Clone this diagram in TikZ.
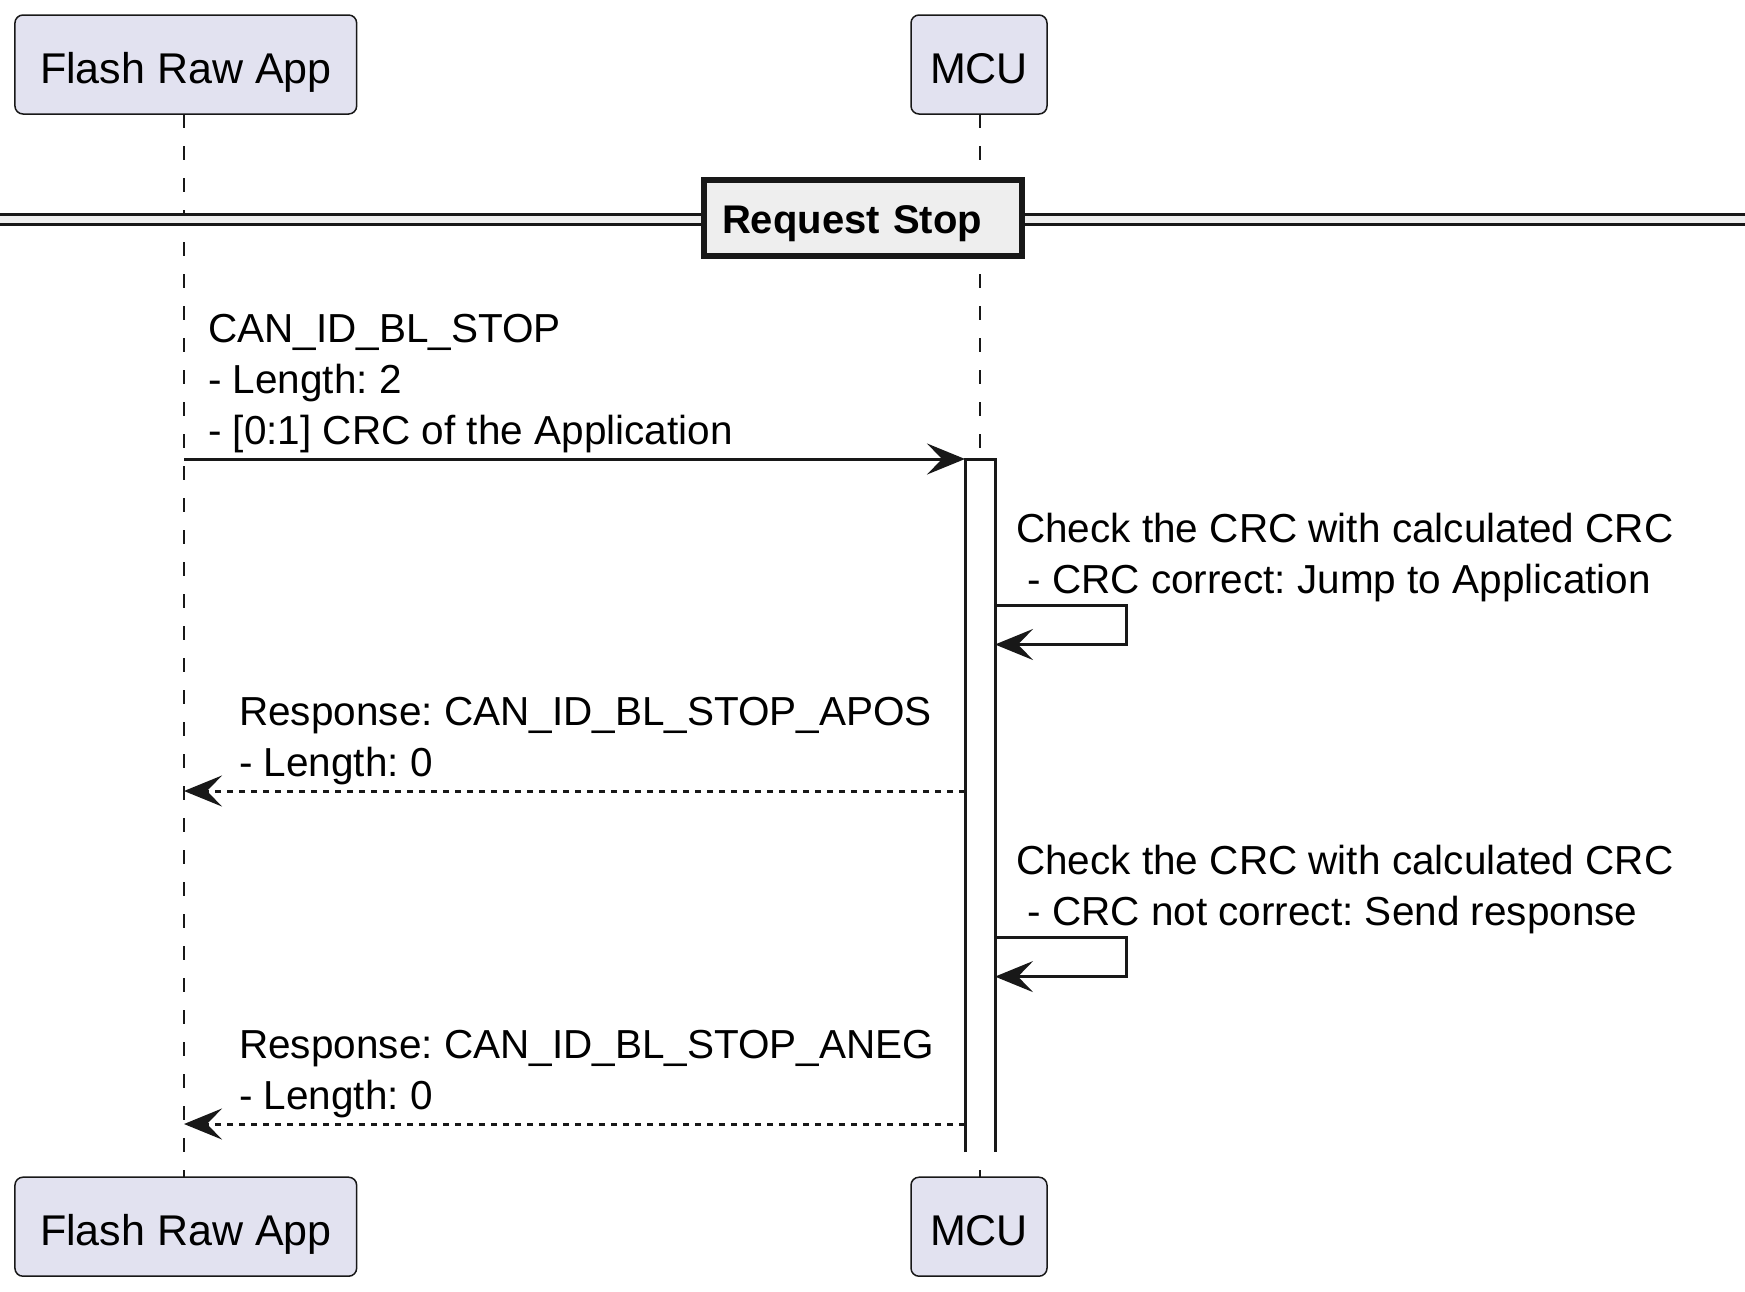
\documentclass[tikz,border=0pt]{standalone}
\usepackage{fontspec}
\setmainfont{Liberation Sans}
\usetikzlibrary{arrows.meta}
\frenchspacing

\definecolor{partfill}{HTML}{E2E2F0}
\definecolor{linecol}{HTML}{181818}
\definecolor{divfill}{HTML}{EEEEEE}

\tikzset{
	participant/.style={draw=linecol, line width=1.5pt, fill=partfill, rounded corners=8pt,
		inner sep=0pt, minimum height=99pt, text height=38pt, text depth=0pt,
		font=\fontsize{43}{50}\selectfont},
	lifeline/.style={draw=linecol, line width=1.5pt, dash pattern=on 14pt off 18pt},
	msg/.style={draw=linecol, line width=3pt, -{Stealth[length=38pt, width=31pt, inset=15pt]}},
	reply/.style={msg, dash pattern=on 6pt off 6pt},
	msgtext/.style={anchor=base west, inner sep=0pt, align=left,
		font=\fontsize{40.5}{51}\selectfont},
}

\begin{document}
\begin{tikzpicture}[x=1pt, y=-1pt]
	\useasboundingbox (0, 0) rectangle (1745, 1291);
	
	% Lifelines
	\draw[lifeline] (184, 114) -- (184, 1177.5);
	\draw[lifeline] (980, 114) -- (980, 1177.5);
	
	% Divider
	\fill[divfill] (0, 214.7) rectangle (1745, 224.2);
	\draw[line width=3pt, linecol] (0, 214.7) -- (1745, 214.7);
	\draw[line width=3pt, linecol] (0, 224.2) -- (1745, 224.2);
	\node[draw=linecol, line width=6pt, fill=divfill, anchor=west, inner xsep=18.3pt, inner ysep=0pt,
		minimum height=76pt, text width=281.7pt, align=left, text height=30pt, text depth=0pt,
		font=\fontsize{40}{48}\selectfont\bfseries] (divider) at (700.7, 218.3) {Request Stop};
	
	% Activation of MCU
	\fill[white] (965, 459) rectangle (995, 1152);
	\draw[line width=3pt, linecol] (965, 1152) -- (965, 459) -- (995, 459) -- (995, 1152);
	
	% Message end points
	\coordinate (req app) at (184, 459);
	\coordinate (req mcu) at (965, 459);
	\coordinate (chk1 out) at (995, 605.5);
	\coordinate (chk1 in) at (995, 644.5);
	\coordinate (apos mcu) at (965, 791);
	\coordinate (apos app) at (184, 791);
	\coordinate (chk2 out) at (995, 937.6);
	\coordinate (chk2 in) at (995, 976.6);
	\coordinate (aneg mcu) at (965, 1124);
	\coordinate (aneg app) at (184, 1124);
	
	% Request stop (text placed at its last baseline)
	\draw[msg] (req app) -- (req mcu);
	\node[msgtext] (req text) at (208, 444) {CAN\_ID\_BL\_STOP\\- Length: 2\\- [0:1] CRC of the Application};
	
	% CRC check, correct
	\draw[msg] (chk1 out) -- ++(131.5, 0) |- (chk1 in);
	\node[msgtext] (chk1 text) at (1016, 593) {Check the CRC with calculated CRC\\\ - CRC correct: Jump to Application};
	
	% Positive response
	\draw[reply] (apos mcu) -- (apos app);
	\node[msgtext] (apos text) at (239, 776) {Response: CAN\_ID\_BL\_STOP\_APOS\\- Length: 0};
	
	% CRC check, not correct
	\draw[msg] (chk2 out) -- ++(131.5, 0) |- (chk2 in);
	\node[msgtext] (chk2 text) at (1016, 925) {Check the CRC with calculated CRC\\\ - CRC not correct: Send response};
	
	% Negative response
	\draw[reply] (aneg mcu) -- (aneg app);
	\node[msgtext] (aneg text) at (239, 1109) {Response: CAN\_ID\_BL\_STOP\_ANEG\\- Length: 0};
	
	% Participants
	\node[participant, minimum width=341.7pt] (app top) at (185.8, 64.5) {Flash Raw App};
	\node[participant, minimum width=136pt] (mcu top) at (979, 64.5) {MCU};
	\node[participant, minimum width=341.7pt] (app bottom) at (185.8, 1226.7) {Flash Raw App};
	\node[participant, minimum width=136pt] (mcu bottom) at (979, 1226.7) {MCU};
\end{tikzpicture}
\end{document}
